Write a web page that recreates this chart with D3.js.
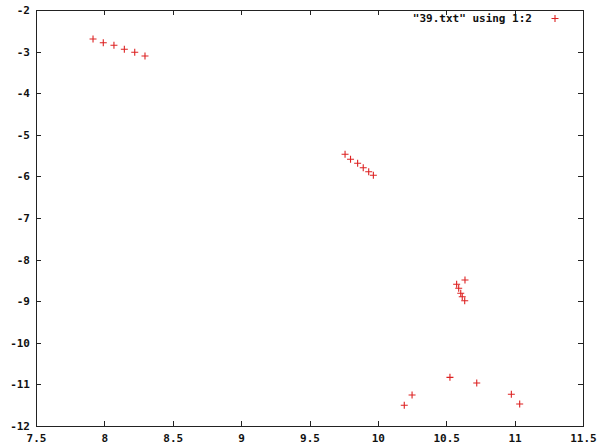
<!DOCTYPE html>
<html><head><meta charset="utf-8">
<script src="https://cdn.jsdelivr.net/npm/d3@7"></script>
<style>body{margin:0;background:#fff}</style>
</head><body>
<svg id="c" width="601" height="446"></svg>
<script>
const xs = [7.917,7.992,8.07,8.146,8.222,8.297, 9.76,9.80,9.852,9.893,9.933,9.967, 10.637,10.576,10.591,10.606,10.617,10.635, 10.193,10.25,10.527,10.723,10.976,11.037];
const ys = [-2.697,-2.786,-2.849,-2.945,-3.017,-3.106, -5.469,-5.589,-5.685,-5.791,-5.887,-5.974, -8.490,-8.594,-8.690,-8.810,-8.892,-8.988, -11.502,-11.255,-10.830,-10.966,-11.238,-11.471];
const xTicks = [7.5,8,8.5,9,9.5,10,10.5,11,11.5];
const yTicks = [-2,-3,-4,-5,-6,-7,-8,-9,-10,-11,-12];
const legendLabel = '"39.txt" using 1:2';

const svg = d3.select("#c");
const L=36, R=583, T=10, B=426;
const x = d3.scaleLinear().domain([7.5,11.5]).range([L,R]);
const y = d3.scaleLinear().domain([-12,-2]).range([B,T]);
const font = "'DejaVu Sans Mono', monospace";
const red = "#dd2222";
const tl = 5;

const fmt = d => String(d);
// bottom axis
const gb = svg.append("g").attr("transform",`translate(0,${B})`)
  .call(d3.axisBottom(x).tickValues(xTicks).tickFormat(fmt).tickSize(-tl).tickSizeOuter(0).tickPadding(9));
const gt = svg.append("g").attr("transform",`translate(0,${T})`)
  .call(d3.axisTop(x).tickValues(xTicks).tickFormat("").tickSize(-tl).tickSizeOuter(0));
const gl = svg.append("g").attr("transform",`translate(${L},0)`)
  .call(d3.axisLeft(y).tickValues(yTicks).tickFormat(fmt).tickSize(-tl).tickSizeOuter(0).tickPadding(9));
const gr = svg.append("g").attr("transform",`translate(${R},0)`)
  .call(d3.axisRight(y).tickValues(yTicks).tickFormat("").tickSize(-tl).tickSizeOuter(0));
[gb,gt,gl,gr].forEach(g=>{
  g.select(".domain").remove();
  g.selectAll("line").attr("stroke","#222").attr("shape-rendering","crispEdges");
  g.selectAll("text").attr("font-family",font).attr("font-weight","bold").attr("font-size","11px").attr("fill","#111");
});
gl.selectAll("text").attr("x",-6);
gb.selectAll("text").attr("y",8);
svg.append("rect").attr("x",L).attr("y",T).attr("width",R-L).attr("height",B-T)
  .attr("fill","none").attr("stroke","#222").attr("shape-rendering","crispEdges");

// legend
svg.append("text").attr("x",532).attr("y",22).attr("text-anchor","end")
  .attr("font-family",font).attr("font-weight","bold").attr("font-size","11px").attr("fill","#111")
  .text(legendLabel);
const plus = (g,cx,cy)=>{
  g.append("path").attr("d",`M${cx-3.5},${cy}H${cx+3.5}M${cx},${cy-3.5}V${cy+3.5}`)
   .attr("stroke",red).attr("stroke-width",1.1).attr("fill","none");
};
plus(svg,555,18.5);

const gp = svg.append("g");
xs.forEach((v,i)=>plus(gp,x(v),y(ys[i])));
</script>
</body></html>
